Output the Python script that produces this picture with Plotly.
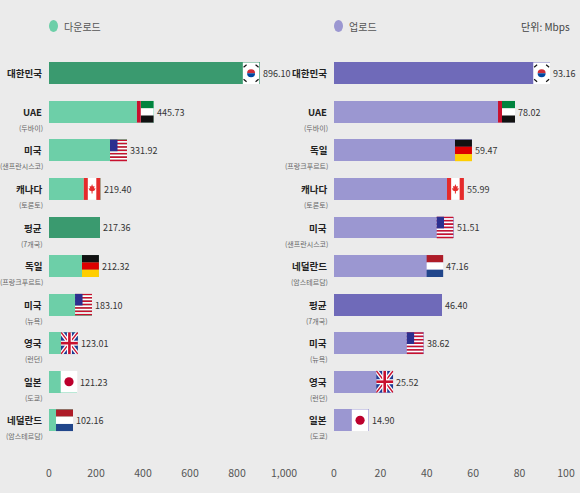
import base64
import plotly.graph_objects as go

# ---------------- data ----------------
dl_names = ["대한민국", "UAE", "미국", "캐나다", "평균", "독일", "미국", "영국", "일본", "네덜란드"]
dl_subs = ["", "(두바이)", "(샌프란시스코)", "(토론토)", "(7개국)", "(프랑크푸르트)", "(뉴욕)", "(런던)", "(도쿄)", "(암스테르담)"]
dl_values = [896.10, 445.73, 331.92, 219.40, 217.36, 212.32, 183.10, 123.01, 121.23, 102.16]
dl_flags = ["kr", "ae", "us", "ca", "", "de", "us", "gb", "jp", "nl"]

ul_names = ["대한민국", "UAE", "독일", "캐나다", "미국", "네덜란드", "평균", "미국", "영국", "일본"]
ul_subs = ["", "(두바이)", "(프랑크푸르트)", "(토론토)", "(샌프란시스코)", "(암스테르담)", "(7개국)", "(뉴욕)", "(런던)", "(도쿄)"]
ul_values = [93.16, 78.02, 59.47, 55.99, 51.51, 47.16, 46.40, 38.62, 25.52, 14.90]
ul_flags = ["kr", "ae", "de", "ca", "us", "nl", "", "us", "gb", "jp"]

dl_ticks = [0, 200, 400, 600, 800, 1000]
dl_ticktext = ["0", "200", "400", "600", "800", "1,000"]
ul_ticks = [0, 20, 40, 60, 80, 100]
ul_ticktext = ["0", "20", "40", "60", "80", "100"]

# ---------------- style ----------------
W, H = 580, 493
BG = "#ebebeb"
DL_HI, DL_LO = "#3a9a6f", "#6dcfa8"
UL_HI, UL_LO = "#6f6ab9", "#9b97d1"
FONT = "Noto Sans CJK KR"
NARROW = "Liberation Sans Narrow, Noto Sans CJK KR"
DOM1 = [49 / W, 284 / W]
DOM2 = [334 / W, 566 / W]
M_T, M_B = 54, 28
Y_RANGE = [10.16, -0.5]
BAR_W = 0.57
FLAG_PX = 17


def svg(body):
    s = ('<svg xmlns="http://www.w3.org/2000/svg" width="17" height="22" '
         'viewBox="0 0 17 22" preserveAspectRatio="none">' + body + '</svg>')
    return "data:image/svg+xml;base64," + base64.b64encode(s.encode()).decode()


def us_flag():
    body = ""
    h = 22 / 13
    for i in range(13):
        c = "#c8102e" if i % 2 == 0 else "#ffffff"
        body += f'<rect x="0" y="{i*h:.3f}" width="17" height="{h+0.05:.3f}" fill="{c}"/>'
    body += f'<rect x="0" y="0" width="7.5" height="{7*h:.3f}" fill="#2b2f8f"/>'
    return svg(body)


FLAGS = {
    "kr": svg('<rect width="17" height="22" fill="#ffffff"/>'
              '<path d="M4.5 11 A4 4 0 0 1 12.5 11 Z" fill="#cd2e3a"/>'
              '<path d="M4.5 11 A4 4 0 0 0 12.5 11 Z" fill="#0047a0"/>'
              '<g stroke="#111" stroke-width="1.2">'
              '<line x1="1" y1="5" x2="4" y2="2.5"/><line x1="13" y1="2.5" x2="16" y2="5"/>'
              '<line x1="1" y1="17" x2="4" y2="19.5"/><line x1="13" y1="19.5" x2="16" y2="17"/>'
              '</g>'),
    "ae": svg('<rect width="17" height="22" fill="#ffffff"/>'
              '<rect x="4" y="0" width="13" height="7.33" fill="#00843d"/>'
              '<rect x="4" y="14.67" width="13" height="7.33" fill="#111111"/>'
              '<rect x="0" y="0" width="4" height="22" fill="#c8102e"/>'),
    "us": us_flag(),
    "ca": svg('<rect width="17" height="22" fill="#ffffff"/>'
              '<rect x="0" y="0" width="4.25" height="22" fill="#e52b2b"/>'
              '<rect x="12.75" y="0" width="4.25" height="22" fill="#e52b2b"/>'
              '<path d="M8.5 6 L9.4 8.5 L11 8 L10.4 10.5 L12 10.3 L11 12.5 L9 13.3 L9 15.5 L8 15.5 '
              'L8 13.3 L6 12.5 L5 10.3 L6.6 10.5 L6 8 L7.6 8.5 Z" fill="#e52b2b"/>'),
    "de": svg('<rect x="0" y="0" width="17" height="7.4" fill="#111111"/>'
              '<rect x="0" y="7.33" width="17" height="7.4" fill="#dd0000"/>'
              '<rect x="0" y="14.67" width="17" height="7.33" fill="#ffce00"/>'),
    "nl": svg('<rect x="0" y="0" width="17" height="7.4" fill="#ae1c28"/>'
              '<rect x="0" y="7.33" width="17" height="7.4" fill="#ffffff"/>'
              '<rect x="0" y="14.67" width="17" height="7.33" fill="#21468b"/>'),
    "gb": svg('<rect width="17" height="22" fill="#1f3a93"/>'
              '<line x1="0" y1="0" x2="17" y2="22" stroke="#ffffff" stroke-width="4"/>'
              '<line x1="17" y1="0" x2="0" y2="22" stroke="#ffffff" stroke-width="4"/>'
              '<line x1="0" y1="0" x2="17" y2="22" stroke="#c8102e" stroke-width="1.4"/>'
              '<line x1="17" y1="0" x2="0" y2="22" stroke="#c8102e" stroke-width="1.4"/>'
              '<rect x="6" y="0" width="5" height="22" fill="#ffffff"/>'
              '<rect x="0" y="8.5" width="17" height="5" fill="#ffffff"/>'
              '<rect x="7.2" y="0" width="2.6" height="22" fill="#c8102e"/>'
              '<rect x="0" y="9.7" width="17" height="2.6" fill="#c8102e"/>'),
    "jp": svg('<rect width="17" height="22" fill="#ffffff"/>'
              '<circle cx="8.5" cy="11" r="4.6" fill="#bc002d"/>'),
}

fig = go.Figure()


def add_panel(names, subs, values, flags, xa, ya, hi, lo, xrange, dom):
    idx = list(range(len(values)))
    colors = [hi if (n in ("대한민국", "평균")) else lo for n in names]
    fig.add_trace(go.Bar(
        x=values, y=idx, orientation="h", width=BAR_W,
        marker=dict(color=colors, line=dict(width=0)),
        text=[f"{v:.2f}" for v in values], textposition="outside",
        textfont=dict(size=9, color="#333333", family=NARROW),
        cliponaxis=False, xaxis=xa, yaxis=ya, hoverinfo="skip", showlegend=False,
    ))
    px_per_unit = (dom[1] - dom[0]) * W / (xrange[1] - xrange[0])
    for i, (n, s, v, f) in enumerate(zip(names, subs, values, flags)):
        fig.add_annotation(x=0, xref=f"{xa} domain", y=i, yref=ya, text=f"<b>{n}</b>",
                           showarrow=False, xanchor="right", yanchor="middle", xshift=-5,
                           font=dict(size=9.5, color="#222222", family=FONT))
        if s:
            fig.add_annotation(x=0, xref=f"{xa} domain", y=i, yref=ya, text=s,
                               showarrow=False, xanchor="right", yanchor="middle", xshift=-4, yshift=-16,
                               font=dict(size=7, color="#666666", family=FONT))
        if f:
            fig.add_layout_image(source=FLAGS[f], xref=xa, yref=ya, x=v, y=i,
                                 xanchor="right", yanchor="middle",
                                 sizex=FLAG_PX / px_per_unit, sizey=BAR_W,
                                 sizing="stretch", layer="above")


add_panel(dl_names, dl_subs, dl_values, dl_flags, "x", "y", DL_HI, DL_LO, [0, 1000], DOM1)
add_panel(ul_names, ul_subs, ul_values, ul_flags, "x2", "y2", UL_HI, UL_LO, [0, 100], DOM2)

axis_common = dict(showgrid=False, zeroline=False, showline=False, ticks="", automargin=False,
                   tickfont=dict(size=10.5, color="#555555", family=NARROW), fixedrange=True)
yaxis_common = dict(range=Y_RANGE, showticklabels=False, showgrid=False, zeroline=False,
                    fixedrange=True, automargin=False)
fig.update_layout(
    width=W, height=H,
    margin=dict(l=0, r=0, t=M_T, b=M_B, autoexpand=False),
    paper_bgcolor=BG, plot_bgcolor=BG,
    font=dict(family=FONT),
    xaxis=dict(domain=DOM1, range=[0, 1000], tickvals=dl_ticks, ticktext=dl_ticktext, anchor="y", **axis_common),
    xaxis2=dict(domain=DOM2, range=[0, 100], tickvals=ul_ticks, ticktext=ul_ticktext, anchor="y2", **axis_common),
    yaxis=dict(anchor="x", **yaxis_common),
    yaxis2=dict(anchor="x2", **yaxis_common),
    bargap=0,
)

# legend-like labels
legend_y = 1 + 28 / (H - M_T - M_B)
for xa, col, label in [("x", DL_LO, "다운로드"), ("x2", UL_LO, "업로드")]:
    fig.add_shape(type="circle", xref=f"{xa} domain", yref="paper",
                  xsizemode="pixel", ysizemode="pixel", xanchor=0, yanchor=legend_y,
                  x0=0, x1=9, y0=-6, y1=6, fillcolor=col, line=dict(width=0))
    fig.add_annotation(x=0, xref=f"{xa} domain", y=legend_y, yref="paper", text=label, showarrow=False,
                       xanchor="left", yanchor="middle", xshift=13,
                       font=dict(size=10, color="#555555", family=FONT))
fig.add_annotation(x=572 / W, xref="paper", y=legend_y, yref="paper", text="단위: Mbps", showarrow=False,
                   xanchor="right", yanchor="middle", font=dict(size=10, color="#444444", family=FONT))

fig.write_html("out.html", config={"displayModeBar": False},
               post_script="document.body.style.margin='0';document.body.style.background='#ebebeb';")
